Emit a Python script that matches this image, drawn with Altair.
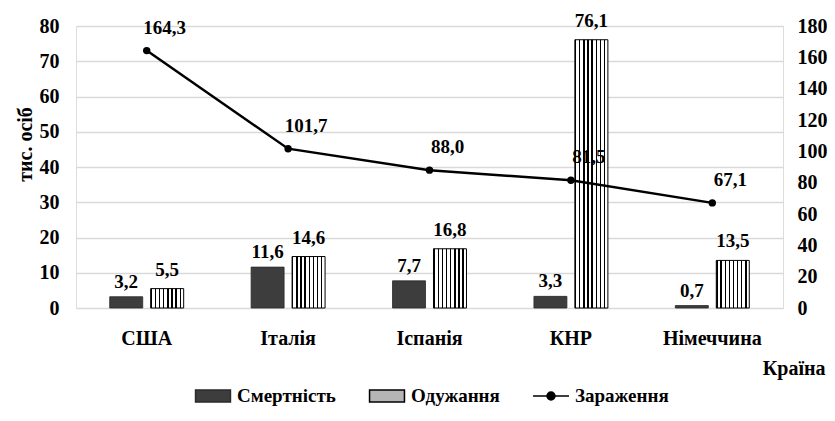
import altair as alt
import pandas as pd

countries = ["США", "Італія", "Іспанія", "КНР", "Німеччина"]
deaths = [3.2, 11.6, 7.7, 3.3, 0.7]
recovered = [5.5, 14.6, 16.8, 76.1, 13.5]
infected = [164.3, 101.7, 88.0, 81.5, 67.1]

bar_series = ["Смертність", "Одужання"]
legend_names = ["Смертність", "Одужання", "Зараження"]

FONT = "Liberation Serif"

bars_df = pd.DataFrame(
    [{"country": c, "series": "Смертність", "value": v} for c, v in zip(countries, deaths)]
    + [{"country": c, "series": "Одужання", "value": v} for c, v in zip(countries, recovered)]
)
line_df = pd.DataFrame({"country": countries, "series": "Зараження", "value": infected})

label_expr = "replace(format(datum.value, '.1f'), '.', ',')"

x_enc = alt.X(
    "country:N",
    sort=countries,
    scale=alt.Scale(domain=countries, paddingInner=0.477, paddingOuter=0.2385),
    axis=alt.Axis(
        title="Країна",
        titleX=749,
        titleY=66,
        titleAlign="right",
        titleBaseline="alphabetic",
        titleFont=FONT,
        titleFontSize=20,
        titleFontWeight="bold",
        titleColor="black",
        labelFont=FONT,
        labelFontSize=20,
        labelFontWeight="bold",
        labelColor="black",
        labelPadding=20,
        labelAngle=0,
        domain=False,
        ticks=False,
        grid=False,
    ),
)
xoff_enc = alt.XOffset(
    "series:N", scale=alt.Scale(domain=bar_series, paddingInner=0.195, paddingOuter=0)
)
y_left = alt.Y(
    "value:Q",
    scale=alt.Scale(domain=[0, 80], nice=False),
    axis=alt.Axis(
        values=list(range(0, 81, 10)),
        title="тис. осіб",
        titleFont=FONT,
        titleFontSize=20,
        titleFontWeight="bold",
        titleColor="black",
        titleX=-51,
        titleY=118,
        titleBaseline="middle",
        labelFont=FONT,
        labelFontSize=20,
        labelFontWeight="bold",
        labelColor="black",
        labelPadding=17,
        domain=False,
        ticks=False,
        grid=True,
        gridColor="#d9d9d9",
        gridWidth=1.5,
    ),
)
y_right = alt.Y(
    "value:Q",
    scale=alt.Scale(domain=[0, 180], nice=False),
    axis=alt.Axis(
        orient="right",
        values=list(range(0, 181, 20)),
        title=None,
        labelFont=FONT,
        labelFontSize=20,
        labelFontWeight="bold",
        labelColor="black",
        labelPadding=14,
        domain=False,
        ticks=False,
        grid=False,
    ),
)

# hatch-like stripes for "Одужання"
stops = []
n = 8
for i in range(n):
    a = i / n
    b = (i + 0.34) / n
    c = (i + 1) / n
    stops += [
        alt.GradientStop(offset=a, color="black"),
        alt.GradientStop(offset=b, color="black"),
        alt.GradientStop(offset=b, color="white"),
        alt.GradientStop(offset=c, color="white"),
    ]
hatch = alt.LinearGradient(gradient="linear", stops=stops, x1=0, x2=1, y1=0, y2=0)

base_bars = alt.Chart(bars_df)

bars_d = base_bars.transform_filter("datum.series == 'Смертність'").mark_bar(
    fill="#3d3d3d", stroke="#2a2a2a", strokeWidth=0.8
).encode(x=x_enc, xOffset=xoff_enc, y=y_left)

bars_r = base_bars.transform_filter("datum.series == 'Одужання'").mark_bar(
    fill=hatch, stroke="black", strokeWidth=1
).encode(x=x_enc, xOffset=xoff_enc, y=y_left)

text_d = base_bars.transform_filter("datum.series == 'Смертність'").transform_calculate(
    lab=label_expr
).mark_text(
    font=FONT, fontSize=19, fontWeight="bold", color="black", baseline="alphabetic", dy=-9
).encode(x=x_enc, xOffset=xoff_enc, y=y_left, text="lab:N")

text_r = base_bars.transform_filter("datum.series == 'Одужання'").transform_calculate(
    lab=label_expr
).mark_text(
    font=FONT, fontSize=19, fontWeight="bold", color="black", baseline="alphabetic", dy=-13
).encode(x=x_enc, xOffset=xoff_enc, y=y_left, text="lab:N")

rect_path = "M-0.97,-0.33H0.97V0.33H-0.97Z"
line_path = "M-1,0H1M0.22,0A0.22,0.22,0,1,1,-0.22,0A0.22,0.22,0,1,1,0.22,0"

leg = alt.Legend(
    orient="none",
    legendX=118,
    legendY=351,
    direction="horizontal",
    title=None,
    labelFont=FONT,
    labelFontSize=19,
    labelFontWeight="bold",
    labelColor="black",
    symbolSize=1296,
    symbolStrokeWidth=1.5,
    columnPadding=30,
    labelOffset=5,
    padding=0,
)

legend_layer = alt.Chart(line_df).transform_filter("false").mark_point(
    filled=True, opacity=1
).encode(
    shape=alt.Shape(
        "series:N",
        scale=alt.Scale(domain=legend_names, range=[rect_path, rect_path, line_path]),
        legend=leg,
    ),
    fill=alt.Fill(
        "series:N",
        scale=alt.Scale(domain=legend_names, range=["#3d3d3d", "#b5b5b5", "black"]),
        legend=leg,
    ),
    stroke=alt.Stroke(
        "series:N",
        scale=alt.Scale(domain=legend_names, range=["#2a2a2a", "black", "black"]),
        legend=leg,
    ),
)

left = alt.layer(bars_d, bars_r, text_d, text_r, legend_layer)

base_line = alt.Chart(line_df)
line = base_line.mark_line(color="black", strokeWidth=2.5).encode(x=x_enc, y=y_right)
pts = base_line.mark_circle(color="black", size=55, opacity=1).encode(x=x_enc, y=y_right)
line_text = base_line.transform_calculate(lab=label_expr).mark_text(
    font=FONT, fontSize=19, fontWeight="bold", color="black",
    align="center", baseline="alphabetic", dx=18, dy=-17
).encode(x=x_enc, y=y_right, text="lab:N")

right = alt.layer(line, pts, line_text)

chart = (
    alt.layer(left, right)
    .resolve_scale(y="independent")
    .properties(
        width=707,
        height=282,
        autosize=alt.AutoSizeParams(type="none"),
        padding={"left": 68, "top": 18, "right": 44, "bottom": 100},
    )
    .configure_view(stroke=None)
    .configure(font=FONT)
)

chart.save("out.html", embed_options={"renderer": "svg", "actions": False})
